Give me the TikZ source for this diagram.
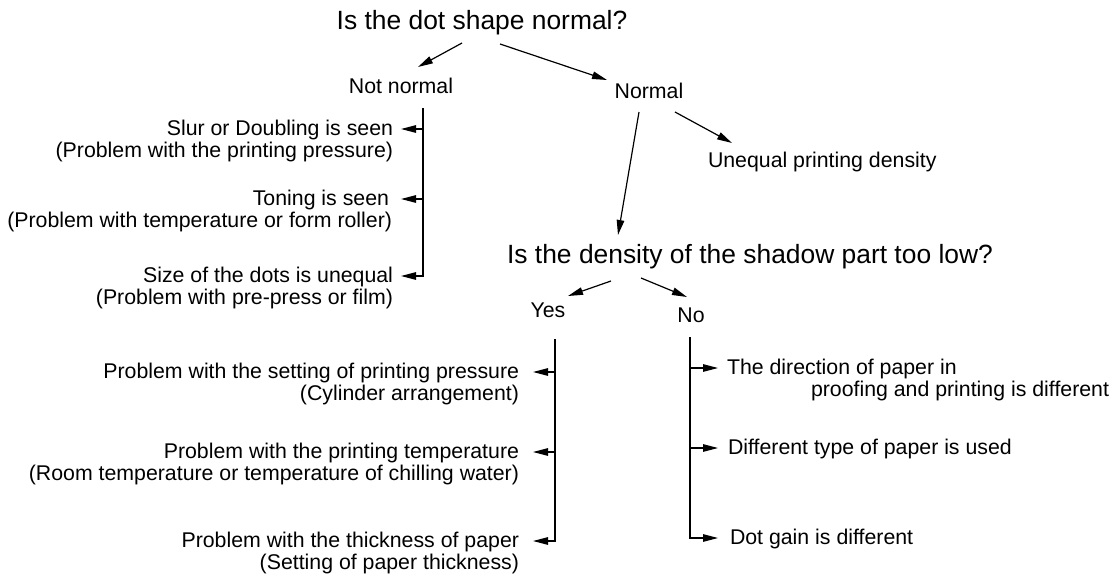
\documentclass[tikz,border=0pt]{standalone}
\usepackage{fontspec}
\setmainfont{Liberation Sans}
\usetikzlibrary{arrows.meta,calc}
\newcommand\rlines[1]{\begin{tabular}[t]{@{}r@{}}#1\end{tabular}}
\newcommand\llines[1]{\begin{tabular}[t]{@{}l@{}}#1\end{tabular}}
\begin{document}
\begin{tikzpicture}[x=1pt,y=-1pt,
  every node/.style={inner sep=0pt, outer sep=0pt},
  big/.style={font=\fontsize{26.4}{30}\selectfont},
  txt/.style={font=\fontsize{21.3}{22}\selectfont},
  arr/.style={line width=1.2pt, -{Triangle[length=15pt,width=7.5pt]}}]
\useasboundingbox (0,0) rectangle (1117,576);
% decision texts
\node[big,anchor=base] (q1) at (482,29) {Is the dot shape normal?};
\node[txt,anchor=base] (nn) at (401,93) {Not normal};
\node[txt,anchor=base] (nor) at (649,98) {Normal};
\node[txt,anchor=base west] (uneq) at (708,167) {Unequal printing density};
\node[big,anchor=base] (q2) at (750,263) {Is the density of the shadow part too low?};
\node[txt,anchor=base] (yes) at (548,317) {Yes};
\node[txt,anchor=base] (no) at (691,322) {No};
% not normal branch
\node[txt,anchor=base east] (a1) at (393,135) {\rlines{Slur or Doubling is seen\\(Problem with the printing pressure)}};
\node[txt,anchor=base east] (a2) at (392,205) {\rlines{Toning is seen\hspace*{3pt}\\(Problem with temperature or form roller)}};
\node[txt,anchor=base east] (a3) at (393,282) {\rlines{Size of the dots is unequal\\(Problem with pre-press or film)}};
% yes branch
\node[txt,anchor=base east] (b1) at (519,378) {\rlines{Problem with the setting of printing pressure\\(Cylinder arrangement)}};
\node[txt,anchor=base east] (b2) at (519,458) {\rlines{Problem with the printing temperature\\(Room temperature or temperature of chilling water)}};
\node[txt,anchor=base east] (b3) at (519,547) {\rlines{Problem with the thickness of paper\\(Setting of paper thickness)}};
% no branch
\node[txt,anchor=base west] (c1) at (727,374) {\llines{The direction of paper in\\\hspace*{84pt}proofing and printing is different}};
\node[txt,anchor=base west] (c2) at (728,454) {Different type of paper is used};
\node[txt,anchor=base west] (c3) at (730,544) {Dot gain is different};
% branch tops
\coordinate (nnT) at ($(nn.base)+(22,15)$);
\coordinate (yesT) at ($(yes.base)+(7,22)$);
\coordinate (noT) at ($(no.base)+(-1,15)$);
% diagonal arrows
\draw[arr] ($(q1.base)+(-20,14)$) -- ($(nn.base)+(17,-26)$);
\draw[arr] ($(q1.base)+(18,15)$) -- ($(nor.base)+(-42,-18)$);
\draw[arr] ($(nor.base)+(26,14)$) -- ($(uneq.base west)+(24,-24)$);
\draw[arr] ($(nor.base)+(-10,14)$) -- ($(q2.base)+(-132,-28)$);
\draw[arr] ($(q2.base)+(-139,18)$) -- ($(yes.base)+(20,-21)$);
\draw[arr] ($(q2.base)+(-109,15)$) -- ($(no.base)+(-4,-25)$);
% bracket arrows
\draw[arr] (nnT) |- ($(a1.base east)+(8,-6)$);
\draw[arr] (nnT) |- ($(a2.base east)+(9,-6)$);
\draw[arr] (nnT) |- ($(a3.base east)+(8,-6)$);
\draw[arr] (yesT) |- ($(b1.base east)+(14,-6)$);
\draw[arr] (yesT) |- ($(b2.base east)+(14,-6)$);
\draw[arr] (yesT) |- ($(b3.base east)+(14,-6)$);
\draw[arr] (noT) |- ($(c1.base west)+(-9,-6)$);
\draw[arr] (noT) |- ($(c2.base west)+(-10,-6)$);
\draw[arr] (noT) |- ($(c3.base west)+(-12,-6)$);
\end{tikzpicture}
\end{document}
